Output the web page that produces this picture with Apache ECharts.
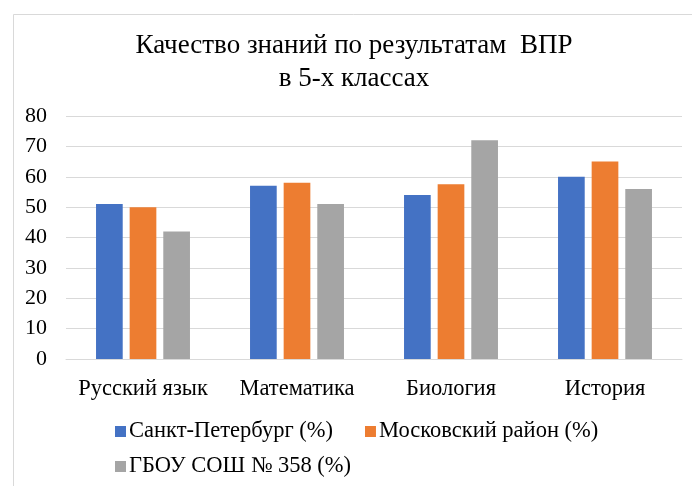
<!DOCTYPE html>
<html>
<head>
<meta charset="utf-8">
<script src="https://cdn.jsdelivr.net/npm/echarts@6/dist/echarts.min.js"></script>
<style>
  html, body { margin: 0; padding: 0; background: #fff; }
  #chart { width: 692px; height: 486px; }
</style>
</head>
<body>
<div id="chart"></div>
<script>
var subjects = ['Русский язык', 'Математика', 'Биология', 'История'];
var seriesNames = ['Санкт-Петербург (%)', 'Московский район (%)', 'ГБОУ СОШ № 358 (%)'];
var spbValues = [51, 57, 54, 60];
var districtValues = [50, 58, 57.5, 65];
var schoolValues = [42, 51, 72, 56];
var yTicks = [0, 10, 20, 30, 40, 50, 60, 70, 80];

(function(){
    var myChart = echarts.init(document.getElementById('chart'));
    var font = '"Liberation Serif", "Times New Roman", serif';
    var legendText = { color: '#000', fontFamily: font, fontSize: 22.5, padding: [0, 0, 0, -2] };

    var option = {
        backgroundColor: '#fff',
        animation: false,
        graphic: [{
            type: 'rect',
            left: 11, top: 12,
            shape: { width: 700, height: 500 },
            style: { fill: 'none', stroke: '#d9d9d9', lineWidth: 1 }
        }],
        title: {
            left: 349,
            top: 24,
            textAlign: 'center',
            text: 'Качество знаний по результатам  ВПР\nв 5-х классах',
            textStyle: {
                color: '#000',
                fontFamily: font,
                fontWeight: 'normal',
                fontSize: 27,
                lineHeight: 33
            }
        },
        // две строки легенды, как в оригинале
        legend: [{
            left: 110,
            top: 415,
            itemWidth: 11,
            itemHeight: 11,
            itemGap: 32,
            icon: 'rect',
            textStyle: legendText,
            data: [seriesNames[0], seriesNames[1]]
        }, {
            left: 110,
            top: 450,
            itemWidth: 11,
            itemHeight: 11,
            icon: 'rect',
            textStyle: legendText,
            data: [seriesNames[2]]
        }],
        grid: {
            left: 66,
            right: 10,
            top: 116,
            bottom: 127
        },
        xAxis: {
            type: 'category',
            data: subjects,
            axisLine: { lineStyle: { color: '#d9d9d9' } },
            axisTick: { show: false },
            axisLabel: { interval: 0, color: '#000', fontFamily: font, fontSize: 22.5, margin: 19 }
        },
        yAxis: {
            type: 'value',
            min: yTicks[0],
            max: yTicks[yTicks.length - 1],
            interval: 10,
            axisLine: { show: false },
            axisTick: { show: false },
            splitLine: { lineStyle: { color: '#d9d9d9' } },
            axisLabel: { color: '#000', fontFamily: font, fontSize: 22, margin: 19 }
        },
        series: [
            {
                name: seriesNames[0],
                type: 'bar',
                barGap: '26%',
                barCategoryGap: '39%',
                itemStyle: { color: '#4472c4' },
                data: spbValues
            },
            {
                name: seriesNames[1],
                type: 'bar',
                itemStyle: { color: '#ed7d31' },
                data: districtValues
            },
            {
                name: seriesNames[2],
                type: 'bar',
                itemStyle: { color: '#a5a5a5' },
                data: schoolValues
            }
        ]
    };

    myChart.setOption(option);
})();
</script>
</body>
</html>
